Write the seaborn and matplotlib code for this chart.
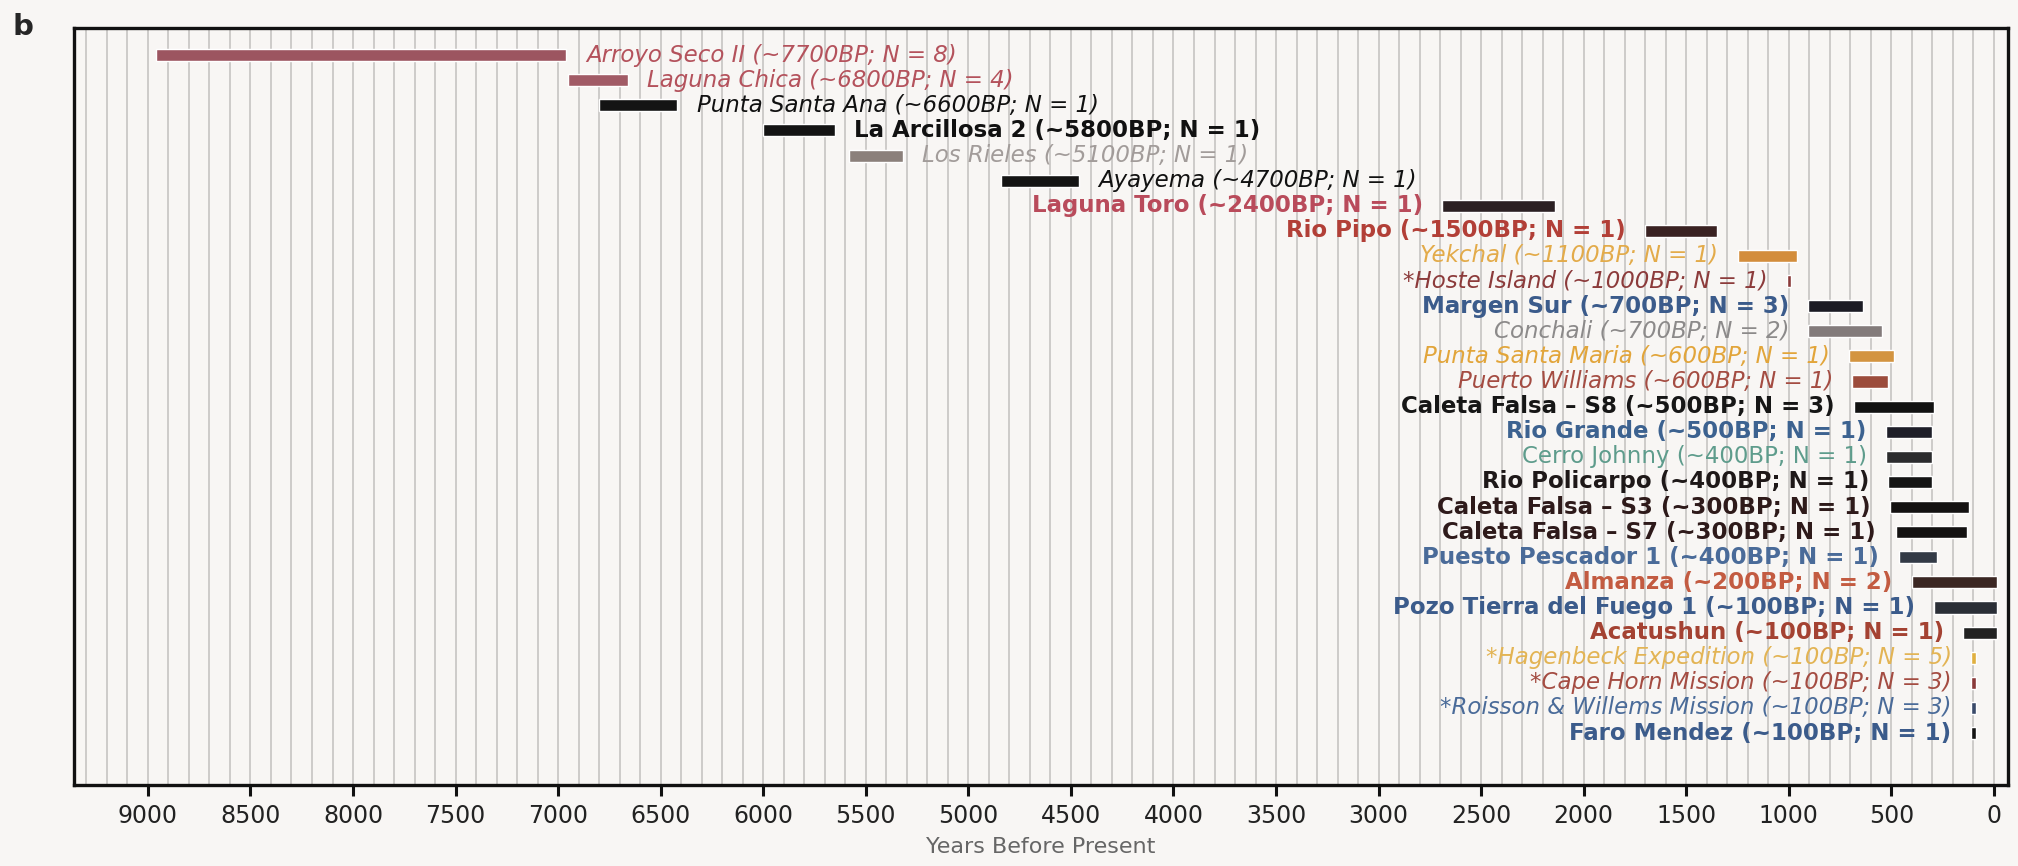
import numpy as np
import pandas as pd
import seaborn as sns
import matplotlib.pyplot as plt

sns.set_theme(style='white')
plt.rcParams['font.family'] = ['DejaVu Sans']

# sites, oldest at the top
sites = ['Arroyo Seco II', 'Laguna Chica', 'Punta Santa Ana', 'La Arcillosa 2',
         'Los Rieles', 'Ayayema', 'Laguna Toro', 'Rio Pipo', 'Yekchal',
         '*Hoste Island', 'Margen Sur', 'Conchali', 'Punta Santa Maria',
         'Puerto Williams', 'Caleta Falsa \u2013 S8', 'Rio Grande', 'Cerro Johnny',
         'Rio Policarpo', 'Caleta Falsa \u2013 S3', 'Caleta Falsa \u2013 S7',
         'Puesto Pescador 1', 'Almanza', 'Pozo Tierra del Fuego 1', 'Acatushun',
         '*Hagenbeck Expedition', '*Cape Horn Mission',
         '*Roisson & Willems Mission', 'Faro Mendez']
approx_bp = [7700, 6800, 6600, 5800, 5100, 4700, 2400, 1500, 1100, 1000, 700, 700,
             600, 600, 500, 500, 400, 400, 300, 300, 400, 200, 100, 100, 100, 100,
             100, 100]
n_samples = [8, 4, 1, 1, 1, 1, 1, 1, 1, 1, 3, 2, 1, 1, 3, 1, 1, 1, 1, 1, 1, 2, 1, 1,
             5, 3, 3, 1]
# age range of each bar (years BP)
start_bp = [8960, 6950, 6800, 6000, 5580, 4840, 2690, 1700, 1250, 1010, 905, 905,
            705, 690, 680, 525, 525, 515, 505, 480, 465, 400, 290, 150, 112, 112,
            112, 112]
end_bp = [6960, 6660, 6420, 5650, 5320, 4460, 2140, 1350, 960, 988, 640, 545,
          485, 515, 290, 300, 300, 300, 120, 130, 280, -15, -15, -15, 90, 90,
          90, 90]
bar_colors = ['#9c5560', '#a15b66', '#141414', '#141414', '#8b807b', '#141414',
              '#2b2023', '#3a2222', '#d38d3c', '#8a3a3a', '#1b1b24', '#837b7b',
              '#d39440', '#9c4c3c', '#121212', '#1f1f29', '#2c2c2e', '#151515',
              '#141212', '#141212', '#333a46', '#3b2723', '#2b2f37', '#222222',
              '#e0b040', '#8a3a3a', '#3a4a6a', '#151515']
text_colors = ['#b4525c', '#b4525c', '#111111', '#111111', '#a29c9a', '#111111',
               '#b94b5b', '#b23f37', '#e3ab4a', '#8c3b3b', '#3b5b8b', '#8c8a8a',
               '#e2a53a', '#a44c42', '#161616', '#3c6290', '#5e9c8c', '#1e1818',
               '#2e1a1a', '#2e1a1a', '#4a6b99', '#c35b41', '#3b5b8b', '#a44232',
               '#e3b454', '#a44c42', '#4a6b99', '#3b5b8b']
text_styles = ['italic', 'italic', 'italic', 'bold', 'italic', 'italic', 'bold',
               'bold', 'italic', 'italic', 'bold', 'italic', 'italic', 'italic',
               'bold', 'bold', 'regular', 'bold', 'bold', 'bold', 'bold', 'bold',
               'bold', 'bold', 'italic', 'italic', 'italic', 'bold']
x_ticks = np.arange(0, 9001, 500)

df = pd.DataFrame({'site': sites, 'bp': approx_bp, 'n': n_samples,
                   'start': start_bp, 'end': end_bp})
df['row'] = np.arange(len(df))
df['label'] = [f'{s} (~{b}BP; N = {n})' for s, b, n in zip(sites, approx_bp, n_samples)]

bg = '#f8f6f4'
fig = plt.figure(figsize=(20.18, 8.66), dpi=100, facecolor=bg)
ax = fig.add_axes([0.0367, 0.0935, 0.9583, 0.8742], facecolor=bg)

ax.barh(df['row'], df['start'] - df['end'], left=df['end'], height=0.48,
        color=bar_colors, zorder=3)

for i, r in df.iterrows():
    st = text_styles[i]
    kw = dict(fontsize=16.5, color=text_colors[i], va='center', zorder=4,
              fontstyle='italic' if st == 'italic' else 'normal',
              fontweight='bold' if st == 'bold' else 'normal')
    if i < 6:
        ax.annotate(r['label'], xy=(r['end'], r['row']), xytext=(14, 0),
                    textcoords='offset points', ha='left', **kw)
    else:
        ax.annotate(r['label'], xy=(r['start'], r['row']), xytext=(-14, 0),
                    textcoords='offset points', ha='right', **kw)

ax.set_xlim(9360, -68)
ax.set_ylim(len(df) + 1.07, -1.08)
ax.set_xticks(x_ticks)
ax.set_xticks(np.arange(0, 9400, 100), minor=True)
ax.set_yticks([])
ax.grid(axis='x', which='both', color='#c6c4c2', linewidth=1.2, zorder=0)
ax.tick_params(axis='x', which='major', length=8, width=2.2, color='#111111',
               labelsize=17, labelcolor='#222222', pad=6, bottom=True)
ax.tick_params(axis='x', which='minor', length=0)
for s in ax.spines.values():
    s.set_color('#111111')
    s.set_linewidth(2.4)
ax.set_xlabel('Years Before Present', fontsize=16, color='#666666', labelpad=6)

fig.text(0.006, 0.985, 'b', fontsize=21, fontweight='bold', va='top', ha='left')

fig.savefig('out.png', dpi=100, facecolor=bg)
